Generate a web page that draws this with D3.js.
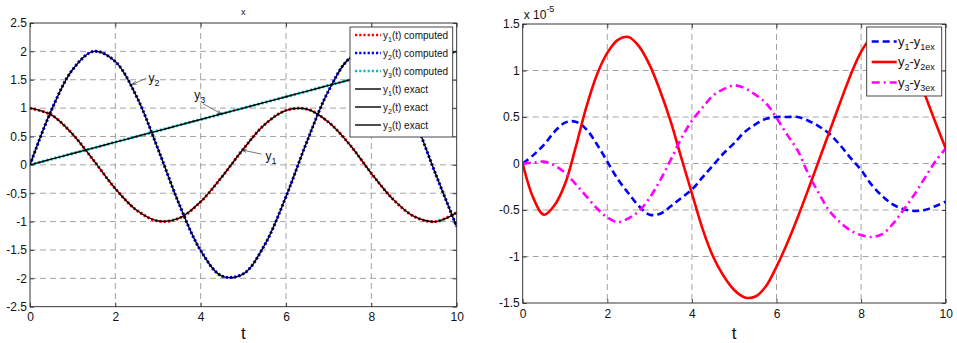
<!DOCTYPE html>
<html>
<head>
<meta charset="utf-8">
<script src="https://cdn.jsdelivr.net/npm/d3@7"></script>
<style>
body { margin: 0; background: #fff; }
text { font-family: "Liberation Sans", Arial, sans-serif; fill: #111; }
</style>
</head>
<body>
<div class="container"></div>
<script>
const WIDTH = 957;
const HEIGHT = 343;

// left panel: sample times and solutions (computed and exact coincide)
const tValues = [0, 0.5, 1, 1.5, 2, 2.5, 3, 3.5, 4, 4.5, 5, 5.5, 6, 6.5, 7, 7.5, 8, 8.5, 9, 9.5, 10];
const y1Values = [1, 0.88, 0.54, 0.07, -0.42, -0.8, -0.99, -0.94, -0.65, -0.21, 0.28, 0.71, 0.96, 0.98, 0.75, 0.35, -0.15, -0.6, -0.91, -1.0, -0.84];
const y2Values = [0, 0.96, 1.68, 2.0, 1.82, 1.2, 0.28, -0.7, -1.51, -1.96, -1.92, -1.41, -0.56, 0.43, 1.31, 1.88, 1.98, 1.6, 0.82, -0.15, -1.09];
const y3Values = [0, 0.1, 0.2, 0.3, 0.4, 0.5, 0.6, 0.7, 0.8, 0.9, 1.0, 1.1, 1.2, 1.3, 1.4, 1.5, 1.6, 1.7, 1.8, 1.9, 2.0];

// right panel: sample times and errors (x 1e-5)
const tErr = [0, 0.25, 0.5, 0.75, 1, 1.25, 1.5, 1.75, 2, 2.25, 2.5, 2.75, 3, 3.25, 3.5, 3.75, 4, 4.25, 4.5, 4.75, 5,
              5.25, 5.5, 5.75, 6, 6.25, 6.5, 6.75, 7, 7.25, 7.5, 7.75, 8, 8.25, 8.5, 8.75, 9, 9.25, 9.5, 9.75, 10];
const err1Values = [0, 0.09, 0.2, 0.34, 0.44, 0.45, 0.37, 0.21, 0.02, -0.17, -0.32, -0.46, -0.55, -0.54, -0.46, -0.37, -0.28, -0.15, -0.02, 0.11, 0.22,
                    0.34, 0.42, 0.48, 0.5, 0.5, 0.5, 0.46, 0.4, 0.32, 0.2, 0.06, -0.07, -0.23, -0.35, -0.44, -0.49, -0.51, -0.5, -0.46, -0.41];
const err2Values = [0, -0.37, -0.55, -0.45, -0.22, 0.17, 0.6, 0.95, 1.19, 1.33, 1.36, 1.26, 1.06, 0.78, 0.45, 0.06, -0.32, -0.7, -1.0, -1.21, -1.36,
                    -1.44, -1.43, -1.32, -1.11, -0.86, -0.58, -0.28, 0.03, 0.34, 0.65, 0.95, 1.2, 1.36, 1.41, 1.37, 1.25, 1.04, 0.75, 0.45, 0.16];
const err3Values = [0, 0.01, 0.02, -0.02, -0.1, -0.22, -0.35, -0.48, -0.58, -0.63, -0.59, -0.51, -0.37, -0.18, 0.04, 0.27, 0.46, 0.6, 0.73, 0.8, 0.84,
                    0.81, 0.74, 0.65, 0.49, 0.31, 0.14, -0.11, -0.32, -0.51, -0.63, -0.72, -0.77, -0.79, -0.76, -0.65, -0.5, -0.34, -0.16, 0.02, 0.16];

const xTicks = [0, 2, 4, 6, 8, 10];
const leftYTicks = [-2.5, -2, -1.5, -1, -0.5, 0, 0.5, 1, 1.5, 2, 2.5];
const rightYTicks = [-1.5, -1, -0.5, 0, 0.5, 1, 1.5];

const leftLegend = [
    {name: "y", sub: "1", rest: "(t) computed", color: "#ff0000", dash: "2.2,2"},
    {name: "y", sub: "2", rest: "(t) computed", color: "#0000ff", dash: "2.2,2"},
    {name: "y", sub: "3", rest: "(t) computed", color: "#00c0c0", dash: "2.2,2"},
    {name: "y", sub: "1", rest: "(t) exact", color: "#000", dash: null},
    {name: "y", sub: "2", rest: "(t) exact", color: "#000", dash: null},
    {name: "y", sub: "3", rest: "(t) exact", color: "#000", dash: null}
];

const rightLegend = [
    {a: "1", b: "1ex", color: "#0000ff", dash: "7,4"},
    {a: "2", b: "2ex", color: "#ff0000", dash: null},
    {a: "3", b: "3ex", color: "#ff00ff", dash: "8,4,2,4"}
];

var svg = d3.select(".container").append("svg")
    .attr("width", WIDTH)
    .attr("height", HEIGHT);

var fmt = function(d){ return String(d); };

var makePanel = function(box, yDomain, yTicks){
    var x = d3.scaleLinear().domain([0, 10]).range([box.x0, box.x1]);
    var y = d3.scaleLinear().domain(yDomain).range([box.y1, box.y0]);

    var g = svg.append("g");

    // dashed grid
    g.selectAll(".vgrid").data(xTicks.filter(function(d){ return d > 0 && d < 10; }))
        .enter().append("line")
        .attr("x1", function(d){ return x(d); }).attr("x2", function(d){ return x(d); })
        .attr("y1", box.y0).attr("y2", box.y1)
        .attr("stroke", "#999").attr("stroke-width", 0.9).attr("stroke-dasharray", "6,4");
    g.selectAll(".hgrid").data(yTicks.filter(function(d){ return d > yDomain[0] && d < yDomain[1]; }))
        .enter().append("line")
        .attr("x1", box.x0).attr("x2", box.x1)
        .attr("y1", function(d){ return y(d); }).attr("y2", function(d){ return y(d); })
        .attr("stroke", "#999").attr("stroke-width", 0.9).attr("stroke-dasharray", "6,4");

    var styleAxis = function(sel){
        sel.select(".domain").remove();
        sel.selectAll(".tick line").attr("stroke", "#222").attr("stroke-width", 0.8);
        sel.selectAll(".tick text").attr("font-size", 12).attr("fill", "#111")
            .style("font-family", "'Liberation Sans', Arial, sans-serif");
    };

    g.append("g").attr("transform", "translate(0," + box.y1 + ")")
        .call(d3.axisBottom(x).tickValues(xTicks).tickFormat(fmt).tickSizeInner(-4).tickSizeOuter(0).tickPadding(6))
        .call(styleAxis);
    g.append("g").attr("transform", "translate(0," + box.y0 + ")")
        .call(d3.axisTop(x).tickValues(xTicks).tickFormat("").tickSizeInner(-4).tickSizeOuter(0))
        .call(styleAxis);
    g.append("g").attr("transform", "translate(" + box.x0 + ",0)")
        .call(d3.axisLeft(y).tickValues(yTicks).tickFormat(fmt).tickSizeInner(-4).tickSizeOuter(0).tickPadding(3))
        .call(styleAxis);
    g.append("g").attr("transform", "translate(" + box.x1 + ",0)")
        .call(d3.axisRight(y).tickValues(yTicks).tickFormat("").tickSizeInner(-4).tickSizeOuter(0))
        .call(styleAxis);

    g.append("text")
        .attr("x", (box.x0 + box.x1) / 2).attr("y", 339)
        .attr("text-anchor", "middle").attr("font-size", 17)
        .text("t");

    return {x: x, y: y, g: g, box: box};
};

var drawBox = function(p){
    p.g.append("rect")
        .attr("x", p.box.x0).attr("y", p.box.y0)
        .attr("width", p.box.x1 - p.box.x0).attr("height", p.box.y1 - p.box.y0)
        .attr("fill", "none").attr("stroke", "#222").attr("stroke-width", 0.9);
};

var drawSeries = function(p, times, values, color, width, dash){
    var line = d3.line()
        .x(function(d, i){ return p.x(times[i]); })
        .y(function(d){ return p.y(d); })
        .curve(d3.curveCatmullRom);
    var path = p.g.append("path")
        .datum(values)
        .attr("d", line)
        .attr("fill", "none")
        .attr("stroke", color)
        .attr("stroke-width", width);
    if (dash) path.attr("stroke-dasharray", dash);
};

var clip = function(id, box){
    svg.append("clipPath").attr("id", id).append("rect")
        .attr("x", box.x0).attr("y", box.y0)
        .attr("width", box.x1 - box.x0).attr("height", box.y1 - box.y0);
};

// ---------- left panel ----------
var leftBox = {x0: 30, x1: 456.7, y0: 23, y1: 306.7};
var left = makePanel(leftBox, [-2.5, 2.5], leftYTicks);
clip("clipL", leftBox);
var leftLines = {g: left.g.append("g").attr("clip-path", "url(#clipL)"), x: left.x, y: left.y};

drawSeries(leftLines, tValues, y1Values, "#ff0000", 3, "2.2,2");
drawSeries(leftLines, tValues, y2Values, "#0000ff", 3, "2.2,2");
drawSeries(leftLines, tValues, y3Values, "#00c0c0", 3, "2.2,2");
drawSeries(leftLines, tValues, y1Values, "#000", 1.4);
drawSeries(leftLines, tValues, y2Values, "#000", 1.4);
drawSeries(leftLines, tValues, y3Values, "#000", 1.4);
drawBox(left);

svg.append("text")
    .attr("x", (leftBox.x0 + leftBox.x1) / 2).attr("y", 15)
    .attr("text-anchor", "middle").attr("font-size", 9)
    .text("x");

// arrow annotations (head in data units, text/tail offset in px)
svg.append("defs").append("marker")
    .attr("id", "head").attr("viewBox", "0 0 10 10")
    .attr("refX", 10).attr("refY", 5)
    .attr("markerWidth", 5).attr("markerHeight", 5)
    .attr("orient", "auto")
    .append("path").attr("d", "M0,1 L10,5 L0,9").attr("fill", "none")
    .attr("stroke", "#222").attr("stroke-width", 1.6);

var annotations = [
    {sub: "2", t: 2.4, v: 1.42, tail: [14, -6], text: [16, -2]},
    {sub: "3", t: 4.48, v: 0.9, tail: [-18, -10], text: [-27, -15]},
    {sub: "1", t: 4.98, v: 0.26, tail: [19, 4], text: [23, 10]}
];
annotations.forEach(function(a){
    var hx = left.x(a.t), hy = left.y(a.v);
    svg.append("line")
        .attr("x1", hx + a.tail[0]).attr("y1", hy + a.tail[1])
        .attr("x2", hx).attr("y2", hy)
        .attr("stroke", "#555").attr("stroke-width", 0.8)
        .attr("marker-end", "url(#head)");
    var tx = svg.append("text")
        .attr("x", hx + a.text[0]).attr("y", hy + a.text[1])
        .attr("font-size", 12);
    tx.append("tspan").text("y");
    tx.append("tspan").attr("dy", 4).attr("font-size", 9).text(a.sub);
});

// left legend
var lg = svg.append("g");
lg.append("rect").attr("x", 350).attr("y", 27).attr("width", 102.7).attr("height", 110)
    .attr("fill", "#fff").attr("stroke", "#333").attr("stroke-width", 0.9);
leftLegend.forEach(function(d, i){
    var yy = 35 + i * 18;
    var l = lg.append("line").attr("x1", 355).attr("x2", 381).attr("y1", yy).attr("y2", yy)
        .attr("stroke", d.color).attr("stroke-width", d.dash ? 2.4 : 1.4);
    if (d.dash) l.attr("stroke-dasharray", d.dash);
    var t = lg.append("text").attr("x", 383).attr("y", yy + 3.5).attr("font-size", 10);
    t.append("tspan").text(d.name);
    t.append("tspan").attr("dy", 3).attr("font-size", 7).text(d.sub);
    t.append("tspan").attr("dy", -3).text(d.rest);
});

// ---------- right panel ----------
var rightBox = {x0: 522.7, x1: 945.7, y0: 24, y1: 303};
var right = makePanel(rightBox, [-1.5, 1.5], rightYTicks);
clip("clipR", rightBox);
var rightLines = {g: right.g.append("g").attr("clip-path", "url(#clipR)"), x: right.x, y: right.y};

drawSeries(rightLines, tErr, err1Values, "#0000ff", 2.6, "7,4");
drawSeries(rightLines, tErr, err2Values, "#ff0000", 2.6);
drawSeries(rightLines, tErr, err3Values, "#ff00ff", 2.6, "8,4,2,4");
drawBox(right);

var sc = svg.append("text").attr("x", rightBox.x0 + 1).attr("y", 19).attr("font-size", 12);
sc.append("tspan").text("x 10");
sc.append("tspan").attr("dy", -7).attr("font-size", 9).text("-5");

// right legend
var rg = svg.append("g");
rg.append("rect").attr("x", 866.7).attr("y", 27).attr("width", 75).attr("height", 69)
    .attr("fill", "#fff").attr("stroke", "#333").attr("stroke-width", 0.9);
rightLegend.forEach(function(d, i){
    var yy = 41.5 + i * 20.5;
    var l = rg.append("line").attr("x1", 871.7).attr("x2", 896.7).attr("y1", yy).attr("y2", yy)
        .attr("stroke", d.color).attr("stroke-width", 2.6);
    if (d.dash) l.attr("stroke-dasharray", d.dash);
    var t = rg.append("text").attr("x", 898).attr("y", yy + 4).attr("font-size", 13);
    t.append("tspan").text("y");
    t.append("tspan").attr("dy", 4).attr("font-size", 9).text(d.a);
    t.append("tspan").attr("dy", -4).text("-y");
    t.append("tspan").attr("dy", 4).attr("font-size", 9).text(d.b);
});
</script>
</body>
</html>
